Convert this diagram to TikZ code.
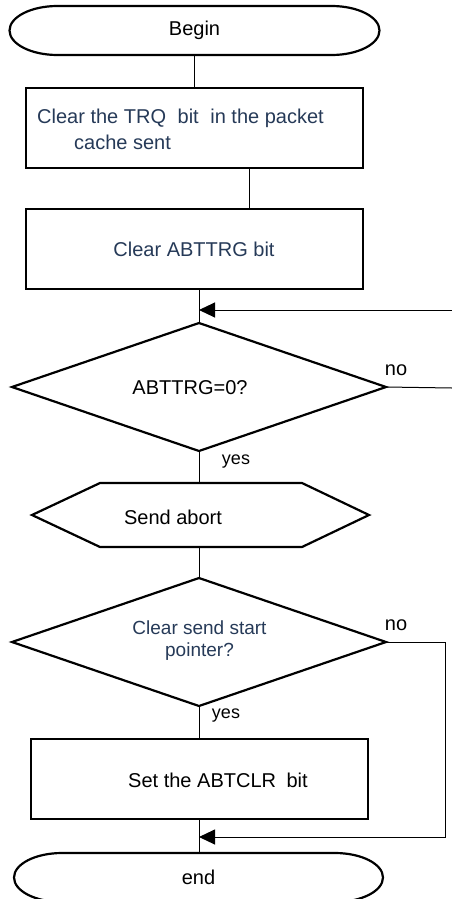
\documentclass[tikz,border=0pt]{standalone}
\usepackage{fontspec}
\setmainfont{Liberation Sans}
\usetikzlibrary{shapes.geometric,arrows.meta,calc}
\definecolor{txtblue}{RGB}{38,58,88}
\tikzset{
  shapeline/.style={line width=2.2pt},
  conn/.style={line width=1pt},
  arr/.style={conn,-{Triangle[length=16pt,width=15pt]}},
  holder/.style={draw=none,inner sep=0pt,outer sep=0pt},
  proc/.style={draw,shapeline,inner sep=0pt,outer sep=0pt,minimum width=337pt,minimum height=80pt},
  dec/.style={draw,shapeline,diamond,inner sep=0pt,outer sep=0pt,minimum width=374pt,minimum height=128pt},
  txt/.style={inner sep=0pt,font=\fontsize{20}{24}\selectfont},
  lbl/.style={inner sep=0pt,font=\fontsize{18}{22}\selectfont}
}
\begin{document}
\begin{tikzpicture}[x=1pt,y=-1pt]
\clip (0,0) rectangle (452,899);
\fill[white] (0,0) rectangle (452,899);
% Begin terminal
\node[holder,minimum width=370pt,minimum height=49pt,txt] (begin) at (194.5,30.5) {Begin};
\draw[shapeline] ($(begin.north west)+(48,0)$) -- ($(begin.north east)+(-48,0)$)
  arc[start angle=90,end angle=-90,x radius=48pt,y radius=24.5pt]
  -- ($(begin.south west)+(48,0)$)
  arc[start angle=270,end angle=90,x radius=48pt,y radius=24.5pt] -- cycle;
% Box 1
\node[proc] (box1) at (194.5,128) {};
\node[txt,anchor=west,align=left,text=txtblue,font=\fontsize{20}{26}\selectfont] (t1) at (37,129)
  {Clear the TRQ\hspace{6pt} bit\hspace{6pt} in the packet\\\hspace*{37pt}cache sent};
% Box 2
\node[proc] (box2) at (194.5,249) {};
\node[txt,text=txtblue] (t2) at (194,249) {Clear ABTTRG bit};
% Decision 1
\node[dec] (d1) at (199,387) {};
\node[txt] (t3) at (190,388) {ABTTRG=0?};
% Send abort hexagon
\node[holder,minimum width=337pt,minimum height=64pt] (abort) at (200.5,515) {};
\draw[shapeline] (abort.west) -- ($(abort.north west)+(68,0)$) -- ($(abort.north east)+(-67,0)$)
  -- (abort.east) -- ($(abort.south east)+(-67,0)$) -- ($(abort.south west)+(68,0)$) -- cycle;
\node[txt] (t4) at (173,517) {Send abort};
% Decision 2
\node[dec] (d2) at (199,642) {};
\node[txt,align=center,text=txtblue,font=\fontsize{19}{22}\selectfont] (t5) at (199.5,641) {Clear send start\\pointer?};
% Box 3
\node[proc] (box3) at (199.5,779) {};
\node[txt] (t6) at (218,780) {Set the ABTCLR\hspace{5pt} bit};
% End terminal
\node[holder,minimum width=369pt,minimum height=49pt,txt] (endn) at (198.5,877.5) {end};
\draw[shapeline] ($(endn.north west)+(48,0)$) -- ($(endn.north east)+(-48,0)$)
  arc[start angle=90,end angle=-90,x radius=48pt,y radius=24.5pt]
  -- ($(endn.south west)+(48,0)$)
  arc[start angle=270,end angle=90,x radius=48pt,y radius=24.5pt] -- cycle;
% Labels
\node[lbl,font=\fontsize{20}{24}\selectfont] (no1) at (396,370) {no};
\node[lbl] (yes1) at (236,462) {yes};
\node[lbl,font=\fontsize{20}{24}\selectfont] (no2) at (396,625) {no};
\node[lbl] (yes2) at (226,716) {yes};
% Connectors
\coordinate (c1) at ($(box1.north west)+(168.5,0)$);
\draw[conn] (c1 |- begin.south) -- (c1);
\coordinate (c2) at ($(box1.south west)+(223,0)$);
\draw[conn] (c2) -- (c2 |- box2.north);
\draw[conn] (d1.north |- box2.south) -- (d1.north);
\coordinate (r1) at (452,310);
\coordinate (r2) at (452,388);
\draw[arr] (r1) -- (r1 -| d1.north);
\draw[conn] (d1.east) -- (r2);
\draw[conn] (d1.south) -- (d1.south |- abort.north);
\draw[conn] (d2.north |- abort.south) -- (d2.north);
\draw[conn] (d2.south) -- (d2.south |- box3.north);
\draw[conn] (d2.south |- box3.south) -- (d2.south |- endn.north);
\coordinate (loopx) at (445,642);
\coordinate (j2) at (199,837);
\draw[arr] (d2.east) -- (loopx) -- (loopx |- j2) -- (j2);
\end{tikzpicture}
\end{document}
